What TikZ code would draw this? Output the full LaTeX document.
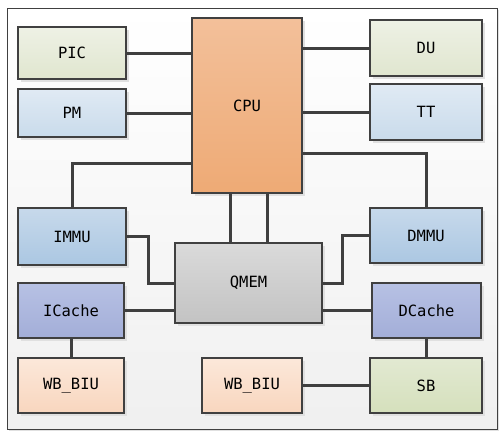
\documentclass[tikz,border=0pt]{standalone}
\usepackage{fontspec}
\setmonofont{DejaVu Sans Mono}
\usetikzlibrary{shadows}

\definecolor{lineGray}{HTML}{404040}
\definecolor{linkGray}{HTML}{3F3F3F}
\definecolor{greenTop}{HTML}{EEF1E5}
\definecolor{greenBot}{HTML}{E0E6CF}
\definecolor{paleTop}{HTML}{E0EAF4}
\definecolor{paleBot}{HTML}{C9DBEB}
\definecolor{blueTop}{HTML}{C7D9EB}
\definecolor{blueBot}{HTML}{ABC7E2}
\definecolor{violTop}{HTML}{B7C1E4}
\definecolor{violBot}{HTML}{A3AED8}
\definecolor{peachTop}{HTML}{FCE8DA}
\definecolor{peachBot}{HTML}{F8D6BE}
\definecolor{sbTop}{HTML}{E2E9D2}
\definecolor{sbBot}{HTML}{D5E0BC}
\definecolor{cpuTop}{HTML}{F3C09A}
\definecolor{cpuBot}{HTML}{EEAA75}
\definecolor{memTop}{HTML}{DADADA}
\definecolor{memBot}{HTML}{C3C3C3}

\begin{document}
\begin{tikzpicture}[x=1pt,y=-1pt,
  block/.style={draw=lineGray,line width=1.1pt,inner sep=0pt,
    font=\ttfamily\fontsize{15.5}{18}\selectfont,
    drop shadow={shadow xshift=3pt,shadow yshift=-3pt,fill=black!12,opacity=1}},
  link/.style={draw=linkGray,line width=3pt}]

\useasboundingbox (0,0) rectangle (504,437);

% frame
\draw [lineGray,line width=1pt,top color=white,bottom color=black!6,
  drop shadow={shadow xshift=2pt,shadow yshift=-2pt,fill=black!12,opacity=1}] (7,8) rectangle (497,429);

% blocks
\node [block,top color=cpuTop,bottom color=cpuBot,minimum width=110,minimum height=175] (CPU) at (247,105.5) {CPU};
\node [block,top color=greenTop,bottom color=greenBot,minimum width=108,minimum height=52] (PIC) at (72,53) {PIC};
\node [block,top color=paleTop,bottom color=paleBot,minimum width=108,minimum height=48] (PM) at (72,113) {PM};
\node [block,top color=greenTop,bottom color=greenBot,minimum width=112,minimum height=56] (DU) at (426,48) {DU};
\node [block,top color=paleTop,bottom color=paleBot,minimum width=112,minimum height=56] (TT) at (426,112) {TT};
\node [block,top color=blueTop,bottom color=blueBot,minimum width=108,minimum height=57] (IMMU) at (72,236.5) {IMMU};
\node [block,top color=blueTop,bottom color=blueBot,minimum width=112,minimum height=55] (DMMU) at (426,235.5) {DMMU};
\node [block,top color=memTop,bottom color=memBot,minimum width=147,minimum height=80] (QMEM) at (248.5,283) {QMEM};
\node [block,top color=violTop,bottom color=violBot,minimum width=106,minimum height=55] (ICache) at (71,310.5) {ICache};
\node [block,top color=violTop,bottom color=violBot,minimum width=109,minimum height=55] (DCache) at (426.5,310.5) {DCache};
\node [block,top color=peachTop,bottom color=peachBot,minimum width=106,minimum height=55] (IBIU) at (71,385.5) {WB\_BIU};
\node [block,top color=peachTop,bottom color=peachBot,minimum width=100,minimum height=55] (DBIU) at (252,385.5) {WB\_BIU};
\node [block,top color=sbTop,bottom color=sbBot,minimum width=112,minimum height=55] (SB) at (426,385.5) {SB};

% links
\draw [link] (PIC.east) -- (PIC.east -| CPU.west);
\draw [link] (PM.east) -- (PM.east -| CPU.west);
\draw [link] (DU.west) -- (DU.west -| CPU.east);
\draw [link] (TT.west) -- (TT.west -| CPU.east);
\draw [link] ([yshift=30pt]CPU.south west) -| (IMMU.north);
\draw [link] ([yshift=40pt]CPU.south east) -| (DMMU.north);
\draw [link] ([xshift=-17pt]CPU.south) -- ([xshift=-17pt]CPU.south |- QMEM.north);
\draw [link] ([xshift=20pt]CPU.south) -- ([xshift=20pt]CPU.south |- QMEM.north);
\draw [link] (IMMU.east) -- ++(22,0) |- (QMEM.west);
\draw [link] (ICache.east) -- (ICache.east -| QMEM.west);
\draw [link] (QMEM.east) -- ++(20,0) |- (DMMU.west);
\draw [link] (DCache.west) -- (DCache.west -| QMEM.east);
\draw [link] (ICache.south) -- (IBIU.north);
\draw [link] (DCache.south) -- (DCache.south |- SB.north);
\draw [link] (DBIU.east) -- (SB.west);

\end{tikzpicture}
\end{document}
